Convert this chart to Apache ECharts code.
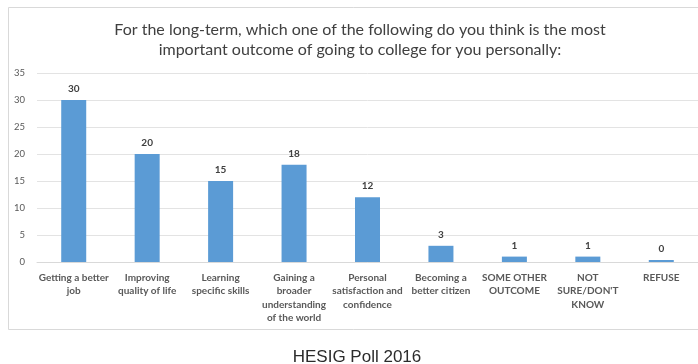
<!DOCTYPE html>
<html>
<head>
<meta charset="utf-8">
<script src="https://cdn.jsdelivr.net/npm/echarts@6/dist/echarts.min.js"></script>
<style>
  html, body { margin: 0; padding: 0; background: #fff; }
  #chart { width: 698px; height: 364px; }
</style>
</head>
<body>
<div id="chart"></div>
<script>
// Survey answers and their counts
const categories = [
  'Getting a better\njob',
  'Improving\nquality of life',
  'Learning\nspecific skills',
  'Gaining a\nbroader\nunderstanding\nof the world',
  'Personal\nsatisfaction and\nconfidence',
  'Becoming a\nbetter citizen',
  'SOME OTHER\nOUTCOME',
  "NOT\nSURE/DON'T\nKNOW",
  'REFUSE'
];
const values = [30, 20, 15, 18, 12, 3, 1, 1, 0];
const yTicks = { min: 0, max: 35, interval: 5 };

const chartTitle = 'For the long-term, which one of the following do you think is the most\nimportant outcome of going to college for you personally:';
const caption = 'HESIG Poll 2016';

const chart = echarts.init(document.getElementById('chart'), null, { renderer: 'canvas' });
const labelFont = 'Lato, "Open Sans", sans-serif';

chart.setOption({
  backgroundColor: '#ffffff',
  animation: false,
  graphic: [{
    type: 'rect',
    shape: { x: 8.5, y: 7.5, width: 720, height: 322 },
    style: { fill: 'none', stroke: '#d9d9d9', lineWidth: 1 },
    silent: true,
    z: 0
  }],
  title: [{
    text: chartTitle,
    left: 355,
    top: 15,
    textAlign: 'center',
    textStyle: {
      fontFamily: labelFont,
      fontSize: 16,
      fontWeight: 'normal',
      color: '#404040',
      lineHeight: 20
    }
  }, {
    text: caption,
    left: 352,
    top: 344,
    textAlign: 'center',
    textStyle: {
      fontFamily: '"Liberation Sans", Arial, sans-serif',
      fontSize: 17,
      fontWeight: 'normal',
      color: '#2b2b2b'
    }
  }],
  grid: {
    left: 37,
    right: -1,
    top: 73,
    bottom: 102,
    containLabel: false
  },
  xAxis: {
    type: 'category',
    data: categories,
    axisLine: { lineStyle: { color: '#d9d9d9' } },
    axisTick: { show: false },
    axisLabel: {
      interval: 0,
      margin: 9,
      fontFamily: labelFont,
      fontSize: 10,
      fontWeight: 'bold',
      color: '#595959',
      lineHeight: 13.5
    }
  },
  yAxis: {
    type: 'value',
    min: yTicks.min,
    max: yTicks.max,
    interval: yTicks.interval,
    axisLine: { show: false },
    axisTick: { show: false },
    splitLine: { lineStyle: { color: '#e3e3e3' } },
    axisLabel: {
      margin: 12,
      fontFamily: labelFont,
      fontSize: 9.5,
      color: '#595959'
    }
  },
  series: [{
    type: 'bar',
    data: values,
    barWidth: 25,
    barMinHeight: 2,
    itemStyle: { color: '#5b9bd5' },
    label: {
      show: true,
      position: 'top',
      distance: 6,
      fontFamily: labelFont,
      fontSize: 10,
      fontWeight: 'bold',
      color: '#404040'
    }
  }]
});
</script>
</body>
</html>
